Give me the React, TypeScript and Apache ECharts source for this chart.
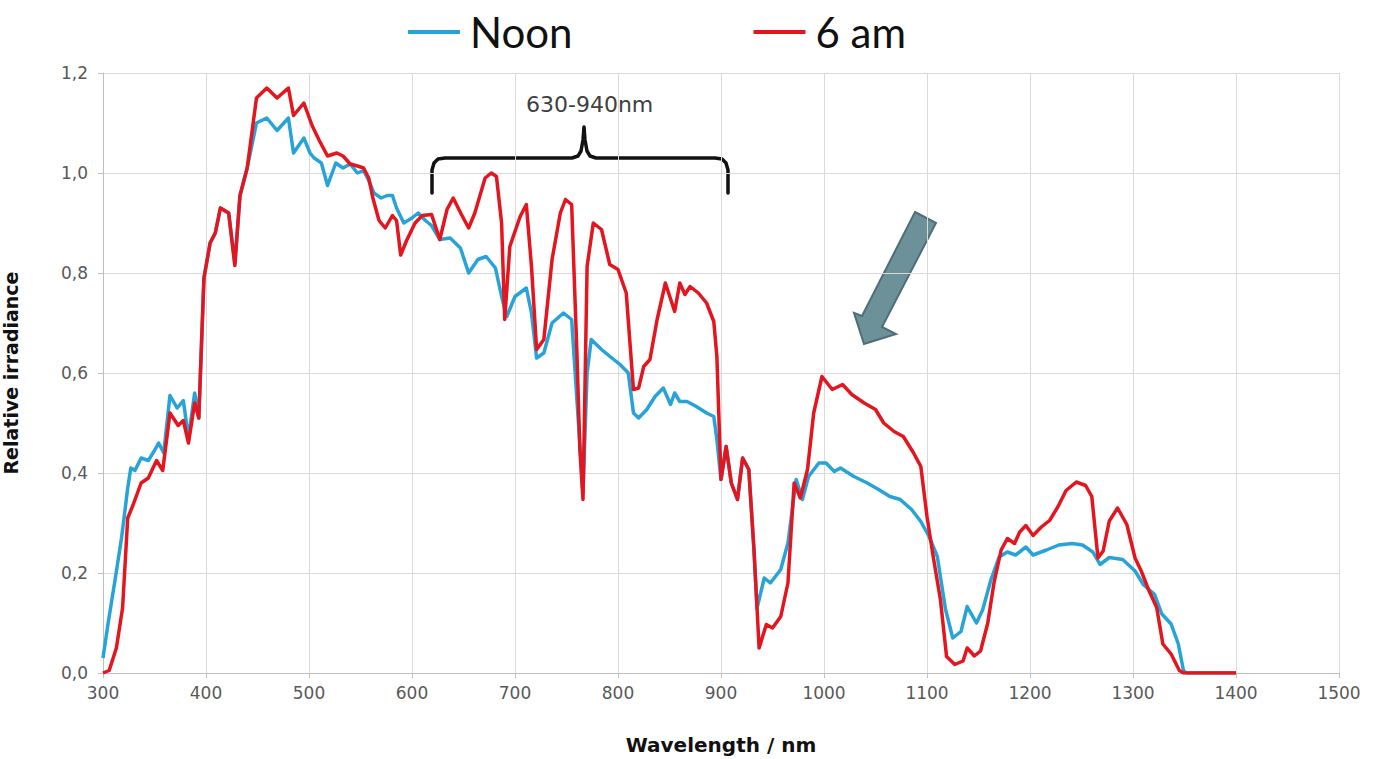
import React, { useEffect, useRef } from "react";
import * as echarts from "echarts";

// Wavelength (nm) and relative irradiance for "Noon"
const noonWavelength = [
  300, 305, 312, 318, 324, 327, 331, 337, 344, 350, 354, 359, 365, 372, 378, 383, 389, 393, 398, 404,
  409, 414, 422, 428, 433, 440, 449, 459, 469, 480, 485, 495, 501, 505, 512, 518, 526, 533, 540, 547,
  553, 558, 563, 570, 576, 581, 585, 592, 600, 606, 613, 619, 627, 637, 647, 655, 664, 672, 681, 687,
  692, 700, 711, 716, 721, 728, 736, 747, 755, 760, 766, 770, 774, 784, 794, 802, 810, 815, 820, 828,
  836, 844, 851, 855, 860, 867, 876, 886, 893, 896, 900, 905, 910, 916, 921, 927, 932, 935, 942, 948,
  958, 965, 973, 979, 985, 995, 1002, 1010, 1016, 1029, 1042, 1053, 1064, 1074, 1085, 1094, 1102, 1110, 1118, 1125,
  1133, 1139, 1148, 1154, 1162, 1170, 1178, 1186, 1196, 1203, 1216, 1228, 1241, 1251, 1261, 1268, 1277, 1290, 1302, 1310,
  1321, 1328, 1337, 1344, 1349, 1352, 1400,
];
const noonIrradiance = [
  0.03, 0.1, 0.19, 0.27, 0.37, 0.41, 0.405, 0.43, 0.425, 0.445, 0.46, 0.44, 0.555, 0.53, 0.545, 0.47, 0.56, 0.51, 0.79, 0.86,
  0.88, 0.93, 0.92, 0.82, 0.955, 1.01, 1.1, 1.11, 1.085, 1.11, 1.04, 1.07, 1.04, 1.03, 1.02, 0.975, 1.02, 1.01, 1.018, 1.0,
  1.005, 0.985, 0.96, 0.95, 0.955, 0.955, 0.93, 0.9, 0.91, 0.92, 0.905, 0.895, 0.867, 0.87, 0.85, 0.8, 0.827, 0.833, 0.81, 0.753,
  0.713, 0.753, 0.77, 0.72, 0.63, 0.64, 0.7, 0.72, 0.707, 0.55, 0.36, 0.6, 0.667, 0.647, 0.63, 0.617, 0.6, 0.52, 0.51, 0.527,
  0.553, 0.57, 0.537, 0.56, 0.543, 0.543, 0.533, 0.52, 0.513, 0.467, 0.387, 0.453, 0.38, 0.347, 0.43, 0.407, 0.247, 0.13, 0.19, 0.18,
  0.207, 0.26, 0.387, 0.347, 0.393, 0.42, 0.42, 0.403, 0.41, 0.393, 0.38, 0.367, 0.353, 0.347, 0.327, 0.303, 0.273, 0.233, 0.127, 0.07,
  0.083, 0.133, 0.1, 0.126, 0.186, 0.232, 0.242, 0.236, 0.252, 0.236, 0.246, 0.256, 0.259, 0.256, 0.242, 0.217, 0.231, 0.227, 0.204, 0.177,
  0.157, 0.118, 0.098, 0.058, 0.005, 0, 0,
];

// Wavelength (nm) and relative irradiance for "6 am"
const amWavelength = [
  300, 306, 313, 319, 324, 329, 337, 344, 352, 358, 365, 373, 378, 383, 389, 393, 398, 404, 409, 414,
  422, 428, 433, 440, 449, 459, 469, 480, 485, 495, 503, 510, 518, 527, 533, 540, 547, 553, 558, 562,
  568, 574, 581, 585, 589, 595, 603, 610, 619, 627, 634, 640, 648, 655, 661, 671, 677, 682, 687, 690,
  695, 705, 711, 716, 721, 728, 736, 744, 749, 755, 760, 763, 766, 770, 776, 784, 792, 800, 808, 815,
  820, 825, 831, 838, 846, 855, 860, 865, 870, 878, 886, 893, 896, 900, 905, 910, 916, 921, 927, 932,
  937, 944, 950, 958, 965, 971, 977, 984, 990, 998, 1008, 1018, 1027, 1039, 1050, 1058, 1068, 1077, 1087, 1094,
  1100, 1106, 1113, 1119, 1127, 1135, 1139, 1146, 1152, 1159, 1165, 1172, 1178, 1185, 1190, 1196, 1203, 1211, 1219, 1227,
  1235, 1245, 1254, 1260, 1266, 1271, 1277, 1285, 1294, 1302, 1308, 1315, 1323, 1329, 1337, 1345, 1349, 1400,
];
const amIrradiance = [
  0.0, 0.005, 0.05, 0.13, 0.31, 0.335, 0.38, 0.39, 0.425, 0.405, 0.52, 0.495, 0.505, 0.46, 0.54, 0.51, 0.79, 0.86, 0.88, 0.93,
  0.92, 0.815, 0.955, 1.01, 1.15, 1.17, 1.15, 1.17, 1.115, 1.14, 1.095, 1.065, 1.034, 1.04, 1.034, 1.018, 1.014, 1.01, 0.99, 0.95,
  0.905, 0.89, 0.915, 0.905, 0.836, 0.866, 0.9, 0.915, 0.917, 0.867, 0.927, 0.95, 0.917, 0.89, 0.92, 0.99, 1.0, 0.993, 0.9, 0.707,
  0.853, 0.913, 0.937, 0.813, 0.647, 0.667, 0.827, 0.92, 0.947, 0.937, 0.647, 0.447, 0.347, 0.813, 0.9, 0.887, 0.817, 0.807, 0.76, 0.567,
  0.57, 0.613, 0.627, 0.707, 0.78, 0.723, 0.78, 0.757, 0.773, 0.76, 0.74, 0.703, 0.633, 0.387, 0.453, 0.38, 0.347, 0.43, 0.407, 0.247,
  0.05, 0.097, 0.09, 0.113, 0.18, 0.38, 0.35, 0.407, 0.52, 0.593, 0.567, 0.577, 0.557, 0.54, 0.527, 0.5, 0.483, 0.473, 0.44, 0.413,
  0.313, 0.233, 0.147, 0.033, 0.017, 0.024, 0.05, 0.034, 0.044, 0.1, 0.18, 0.246, 0.269, 0.259, 0.282, 0.295, 0.275, 0.292, 0.305, 0.332,
  0.365, 0.382, 0.375, 0.353, 0.23, 0.244, 0.304, 0.33, 0.297, 0.23, 0.204, 0.167, 0.131, 0.058, 0.038, 0.005, 0, 0,
];

const seriesNames = ["Noon", "6 am"];
const xTicks = { min: 300, max: 1500, interval: 100 };
const yTicks = { min: 0, max: 1.2, interval: 0.2 };
const annotationText = "630-940nm";
const xAxisTitle = "Wavelength / nm";
const yAxisTitle = "Relative irradiance";

const zip = (xs: number[], ys: number[]) => xs.map((x, i) => [x, ys[i]]);

export default function App() {
  const ref = useRef<HTMLDivElement>(null);

  useEffect(() => {
    if (!ref.current) return;
    const chart = echarts.init(ref.current, null, { renderer: "svg" });

    const axisFont = "DejaVu Sans";
    const option: any = {
      animation: false,
      backgroundColor: "#ffffff",
      legend: {
        left: 403,
        top: 6,
        itemWidth: 52,
        itemHeight: 4,
        itemGap: 181,
        icon: "rect",
        textStyle: {
          fontFamily: "Lato",
          fontSize: 42,
          color: "#111111",
          padding: [0, 0, 0, 5],
        },
        data: seriesNames,
      },
      grid: { left: 103, right: 40, top: 73, bottom: 86, containLabel: false, outerBoundsMode: "none" },
      xAxis: {
        type: "value",
        min: xTicks.min,
        max: xTicks.max,
        interval: xTicks.interval,
        name: xAxisTitle,
        nameLocation: "middle",
        nameGap: 62,
        nameTextStyle: { fontFamily: axisFont, fontWeight: "bold", fontSize: 20, color: "#111111" },
        axisLine: { show: true, lineStyle: { color: "#bfbfbf", width: 1 } },
        axisTick: { show: true, length: 5, lineStyle: { color: "#bfbfbf" } },
        axisLabel: {
          fontFamily: axisFont,
          fontSize: 17,
          color: "#595959",
          margin: 11,
          formatter: (v: number) => String(v),
        },
        splitLine: { show: true, lineStyle: { color: "#d9d9d9", width: 1 } },
      },
      yAxis: {
        type: "value",
        min: yTicks.min,
        max: yTicks.max,
        interval: yTicks.interval,
        name: yAxisTitle,
        nameLocation: "middle",
        nameGap: 83,
        nameRotate: 90,
        nameTextStyle: { fontFamily: axisFont, fontWeight: "bold", fontSize: 19, color: "#111111" },
        axisLine: { show: true, lineStyle: { color: "#bfbfbf", width: 1 } },
        axisTick: { show: true, length: 5, lineStyle: { color: "#bfbfbf" } },
        axisLabel: {
          fontFamily: axisFont,
          fontSize: 17,
          color: "#595959",
          margin: 15,
          formatter: (v: number) => v.toFixed(1).replace(".", ","),
        },
        splitLine: { show: true, lineStyle: { color: "#d9d9d9", width: 1 } },
      },
      series: [
        {
          name: seriesNames[0],
          type: "line",
          data: zip(noonWavelength, noonIrradiance),
          showSymbol: false,
          symbol: "none",
          color: "#27a3d8",
          lineStyle: { color: "#27a3d8", width: 3.5, join: "round" },
        },
        {
          name: seriesNames[1],
          type: "line",
          data: zip(amWavelength, amIrradiance),
          showSymbol: false,
          symbol: "none",
          color: "#e3151e",
          lineStyle: { color: "#e3151e", width: 3.5, join: "round" },
        },
      ],
      graphic: [
        {
          type: "text",
          left: 526,
          top: 93,
          style: { text: annotationText, fontFamily: axisFont, fontSize: 22, fill: "#404040" },
        },
        {
          type: "polyline",
          shape: {
            points: [
              [432, 193], [432, 170], [434, 163], [438, 159], [445, 158], [572, 158], [578, 156], [581, 151],
              [583, 140], [584, 127], [585, 140], [587, 151], [590, 156], [596, 158], [715, 158], [722, 159],
              [726, 163], [728, 170], [728, 193],
            ],
          },
          style: { stroke: "#111111", lineWidth: 3.5, fill: null, lineJoin: "round", lineCap: "round" },
        },
        {
          type: "polygon",
          shape: {
            points: [
              [915, 212], [936, 223], [882, 327], [896, 334], [864, 344], [854, 313], [862, 316],
            ],
          },
          style: { fill: "#6d9199", stroke: "#4e6e78", lineWidth: 2 },
        },
      ],
    };

    chart.setOption(option);
    return () => chart.dispose();
  }, []);

  return (
    <div
      ref={ref}
      style={{ position: "fixed", left: 0, top: 0, width: 1379, height: 759, background: "#fff" }}
    />
  );
}
